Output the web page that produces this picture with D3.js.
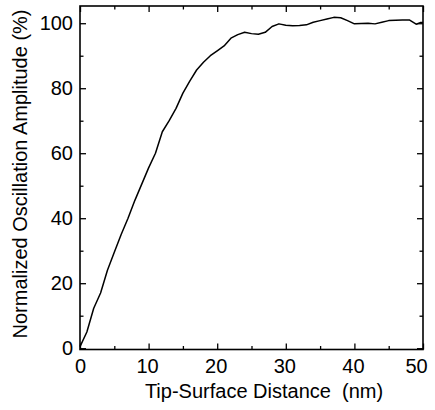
<!DOCTYPE html>
<html>
<head>
<meta charset="utf-8">
<script src="https://cdn.jsdelivr.net/npm/d3@7"></script>
<style>
  html, body { margin: 0; padding: 0; background: #fff; }
  svg { display: block; }
  text { font-family: "Liberation Sans", Arial, Helvetica, sans-serif; fill: #000; }
</style>
</head>
<body>
<svg id="chart" width="435" height="410"></svg>
<script>
// Data
const distance = [0, 1, 2, 3, 4, 5, 6, 7, 8, 9, 10, 11, 12, 13, 14, 15, 16, 17, 18, 19, 20,
  21, 22, 23, 24, 25, 26, 27, 28, 29, 30, 31, 32, 33, 34, 35, 36, 37, 38, 39, 40,
  41, 42, 43, 44, 45, 46, 47, 48, 49, 49.6, 50];
const amplitude = [0.5, 5, 12.3, 17, 24, 29.5, 35, 40, 45.5, 50.5, 55.5, 60, 66.6, 70, 73.8, 78.5, 82.2, 85.6, 88, 90, 91.5,
  93, 95.4, 96.5, 97.2, 96.8, 96.6, 97.2, 99, 99.8, 99.4, 99.2, 99.3, 99.5, 100.3, 100.8, 101.3, 101.8, 101.7, 100.8, 99.8,
  99.9, 100, 99.8, 100.3, 100.8, 100.9, 101, 101, 99.7, 100.2, 100.2];
const xMajorTicks = [0, 10, 20, 30, 40, 50];
const xMinorTicks = [5, 15, 25, 35, 45];
const yMajorTicks = [0, 20, 40, 60, 80, 100];
const yMinorTicks = [10, 30, 50, 70, 90];
const xTitle = "Tip-Surface Distance  (nm)";
const yTitle = "Normalized Oscillation Amplitude (%)";

(function () {
const svg = d3.select("#chart");
const mLeft = 80, mRight = 423, mTop = 6, mBottom = 349.5;

const x = d3.scaleLinear().domain([0, 50]).range([mLeft, mRight]);
const y = d3.scaleLinear().domain([-0.4, 105.3]).range([mBottom, mTop]);

const majorLen = 6, minorLen = 3.5;
const g = svg.append("g");

// Bottom axis (ticks inward)
const gb = g.append("g").attr("transform", `translate(0,${mBottom})`)
  .call(d3.axisBottom(x).tickValues(xMajorTicks).tickSizeInner(-majorLen).tickSizeOuter(0).tickPadding(9).tickFormat(d3.format("d")));
gb.selectAll(".tick text").attr("dx", d => d === 50 ? -7 : (d === 0 ? 0 : -1.5));
gb.append("g").call(d3.axisBottom(x).tickValues(xMinorTicks).tickSizeInner(-minorLen).tickSizeOuter(0).tickFormat(""));

// Top axis
const gt = g.append("g").attr("transform", `translate(0,${mTop})`);
gt.call(d3.axisTop(x).tickValues(xMajorTicks).tickSizeInner(-majorLen).tickSizeOuter(0).tickFormat(""));
gt.append("g").call(d3.axisTop(x).tickValues(xMinorTicks).tickSizeInner(-minorLen).tickSizeOuter(0).tickFormat(""));

// Left axis
const gl = g.append("g").attr("transform", `translate(${mLeft},0)`);
gl.call(d3.axisLeft(y).tickValues(yMajorTicks).tickSizeInner(-majorLen).tickSizeOuter(0).tickPadding(7).tickFormat(d3.format("d")));
gl.append("g").call(d3.axisLeft(y).tickValues(yMinorTicks).tickSizeInner(-minorLen).tickSizeOuter(0).tickFormat(""));

// Right axis
const gr = g.append("g").attr("transform", `translate(${mRight},0)`);
gr.call(d3.axisRight(y).tickValues(yMajorTicks).tickSizeInner(-majorLen).tickSizeOuter(0).tickFormat(""));
gr.append("g").call(d3.axisRight(y).tickValues(yMinorTicks).tickSizeInner(-minorLen).tickSizeOuter(0).tickFormat(""));

g.selectAll(".domain").remove();
g.selectAll(".tick line").attr("stroke", "#000").attr("stroke-width", 1.3);
g.selectAll(".tick text").attr("font-size", 20).attr("fill", "#000")
  .style("font-family", '"Liberation Sans", Arial, sans-serif');

// Frame
svg.append("rect").attr("x", mLeft).attr("y", mTop).attr("width", mRight - mLeft).attr("height", mBottom - mTop)
  .attr("fill", "none").attr("stroke", "#000").attr("stroke-width", 1.6);

// Curve
const pts = distance.map((d, i) => [d, amplitude[i]]);
svg.append("path").datum(pts)
  .attr("fill", "none").attr("stroke", "#000").attr("stroke-width", 1.5).attr("stroke-linejoin", "round")
  .attr("d", d3.line().x(d => x(d[0])).y(d => y(d[1])));

// Titles
svg.append("text").attr("x", 264).attr("y", 398).attr("text-anchor", "middle")
  .attr("font-size", 20).style("white-space", "pre").text(xTitle);
svg.append("text").attr("transform", `translate(27,174) rotate(-90)`)
  .attr("text-anchor", "middle").attr("font-size", 20).text(yTitle);
})();
</script>
</body>
</html>
